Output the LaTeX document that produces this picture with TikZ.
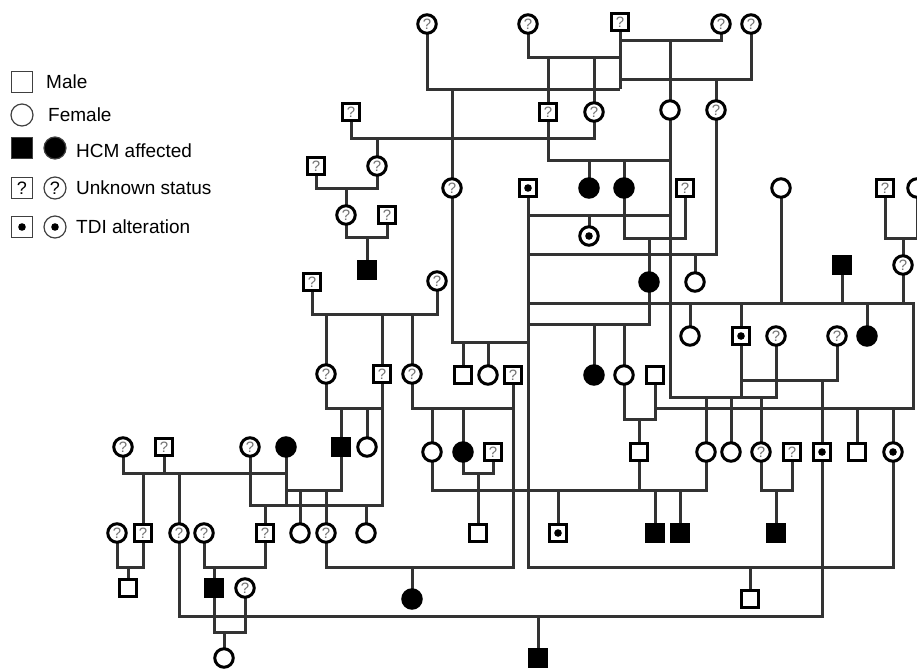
\documentclass[tikz,border=0pt]{standalone}
\usepackage{fontspec}
\setmainfont{Liberation Sans}
\usetikzlibrary{backgrounds}
\tikzset{
 ind/.style={draw=black, line width=3pt, fill=white, inner sep=0pt, outer sep=0pt, font=\fontsize{15}{15}\selectfont, text=black!55},
 ml/.style={ind, rectangle, minimum size=16.5pt},
 fe/.style={ind, circle, minimum size=18.5pt},
 aff/.style={fill=black},
 tdi/.style={path picture={\fill[black] (path picture bounding box.center) circle (3.8pt);}},
 conn/.style={draw=black!80, line width=3pt},
 lg/.style={draw=black!75, line width=1.2pt, fill=white, inner sep=0pt, font=\fontsize{18}{18}\selectfont},
 lgm/.style={lg, rectangle, minimum size=21pt},
 lgf/.style={lg, circle, minimum size=22pt},
 legtext/.style={anchor=west, inner sep=0pt, font=\fontsize{19}{22}\selectfont},
}
\begin{document}
\begin{tikzpicture}[x=1pt, y=-1pt]
\useasboundingbox (0,0) rectangle (917,670);
% legend
\node[lgm] (lm) at (22,82) {};
\node[legtext] (tm) at (46,82) {Male};
\node[lgf] (lf) at (22,115) {};
\node[legtext] (tf) at (48,115) {Female};
\node[lgm, fill=black] (lam) at (22,148) {};
\node[lgf, fill=black] (laf) at (55,148) {};
\node[legtext] (ta) at (76,151) {HCM affected};
\node[lgm] (lum) at (22,188) {?};
\node[lgf] (luf) at (55,188) {?};
\node[legtext] (tu) at (76,188) {Unknown status};
\node[lgm, tdi] (ltm) at (22,227) {};
\node[lgf, tdi] (ltf) at (55,227) {};
\node[legtext] (tt) at (76,227) {TDI alteration};
% generation I
\node[fe] (a1) at (427,24) {?};
\node[fe] (a2) at (528,24) {?};
\node[ml] (a3) at (620,22) {?};
\node[fe] (a4) at (721,24) {?};
\node[fe] (a5) at (751,24) {?};
% generation II
\node[ml] (b1) at (351,112) {?};
\node[ml] (b2) at (548,112) {?};
\node[fe] (b3) at (594,112) {?};
\node[fe] (b4) at (670,110) {};
\node[fe] (b5) at (716,110) {?};
% row ~188
\node[fe] (c0) at (377,166) {?};
\node[ml] (d1) at (316,166) {?};
\node[fe] (c1) at (452,188) {?};
\node[ml, tdi] (c2) at (528,188) {};
\node[fe, aff] (c3) at (589,188) {};
\node[fe, aff] (c4) at (624,188) {};
\node[ml] (c5) at (685,188) {?};
\node[fe] (c6) at (781,188) {};
\node[ml] (c7) at (885,188) {?};
\node[fe] (c8) at (917,188) {};
% rows ~215-282
\node[fe] (e1) at (346,215) {?};
\node[ml] (e2) at (387,215) {?};
\node[fe, tdi] (e3) at (589,236) {};
\node[ml, aff] (f1) at (367,270) {};
\node[ml] (g1) at (312,282) {?};
\node[fe] (g2) at (437,281) {?};
\node[fe, aff] (h1) at (649,282) {};
\node[fe] (h2) at (695,282) {};
\node[ml, aff] (h3) at (842,265) {};
\node[fe] (h4) at (903,265) {?};
% row ~336
\node[fe] (i1) at (690,336) {};
\node[ml, tdi] (i2) at (741,336) {};
\node[fe] (i3) at (776,336) {?};
\node[fe] (i4) at (837,336) {?};
\node[fe, aff] (i5) at (867,336) {};
% row ~375
\node[fe] (j1) at (326,374) {?};
\node[ml] (j2) at (382,374) {?};
\node[fe] (j3) at (412,374) {?};
\node[ml] (j4) at (463,375) {};
\node[fe] (j5) at (488,375) {};
\node[ml] (j6) at (513,375) {?};
\node[fe, aff] (j7) at (594,375) {};
\node[fe] (j8) at (624,375) {};
\node[ml] (j9) at (655,375) {};
% row ~450
\node[fe] (k1) at (123,447) {?};
\node[ml] (k2) at (164,447) {?};
\node[fe] (k3) at (250,447) {?};
\node[fe, aff] (k4) at (286,447) {};
\node[ml, aff] (k5) at (341,447) {};
\node[fe] (k6) at (367,447) {};
\node[fe] (k7) at (432,452) {};
\node[fe, aff] (k8) at (463,452) {};
\node[ml] (k9) at (493,452) {?};
\node[ml] (k10) at (639,452) {};
\node[fe] (k11) at (706,452) {};
\node[fe] (k12) at (731,452) {};
\node[fe] (k13) at (761,452) {?};
\node[ml] (k14) at (792,452) {?};
\node[ml, tdi] (k15) at (822,452) {};
\node[ml] (k16) at (857,452) {};
\node[fe, tdi] (k17) at (893,452) {};
% row ~533
\node[fe] (l1) at (117,533) {?};
\node[ml] (l2) at (143,533) {?};
\node[fe] (l3) at (179,533) {?};
\node[fe] (l4) at (204,533) {?};
\node[ml] (l5) at (265,533) {?};
\node[fe] (l6) at (300,533) {};
\node[fe] (l7) at (326,533) {?};
\node[fe] (l8) at (366,533) {};
\node[ml] (l9) at (478,533) {};
\node[ml, tdi] (l10) at (558,533) {};
\node[ml, aff] (l11) at (655,533) {};
\node[ml, aff] (l12) at (680,533) {};
\node[ml, aff] (l13) at (776,533) {};
% row ~590
\node[ml] (m1) at (128,588) {};
\node[ml, aff] (m2) at (214,588) {};
\node[fe] (m3) at (245,588) {?};
\node[fe, aff] (m4) at (412,599) {};
\node[ml] (m5) at (750,599) {};
% row ~658
\node[fe] (n1) at (224,658) {};
\node[ml, aff] (n2) at (538,658) {};
\coordinate (re) at (913,303);
\coordinate (rf) at (913,408);
\begin{pgfonlayer}{background}
\path[conn]
 (a2) |- (a3 |- 0,57)
 (a1) |- (a3 |- 0,89)
 (a3) -- (a3 |- 0,89)
 (a4) |- (a3 |- 0,40)
 (a5) |- (a3 |- 0,79)
 (b2) -- (b2 |- 0,57)
 (b3) -- (b3 |- 0,57)
 (c1) -- (c1 |- 0,89)
 (b4 |- 0,40) -- (b4 |- 0,397) -| (i3)
 (b5 |- 0,79) -- (b5 |- 0,254) -- (c2 |- 0,254)
 (b1) |- (b3 |- 0,138) -- (b3)
 (c0) -- (c0 |- 0,138)
 (b2) |- (b4 |- 0,160)
 (c3) -- (c3 |- 0,160)
 (c4) -- (c4 |- 0,160)
 (d1) |- (c0 |- 0,188) -- (c0)
 (e1) -- (e1 |- 0,188)
 (e1) |- (e2 |- 0,237) -- (e2)
 (f1) -- (f1 |- 0,237)
 (c1) |- (c2 |- 0,342)
 (j4) -- (j4 |- 0,342)
 (j5) -- (j5 |- 0,342)
 (c2) -- (c2 |- 0,567) -| (k17)
 (c2 |- 0,215) -- (b4 |- 0,215)
 (e3) -- (e3 |- 0,215)
 (c4) |- (c5 |- 0,238) -- (c5)
 (h1 |- 0,238) -- (h1 |- 0,324) -- (c2 |- 0,324)
 (j7) -- (j7 |- 0,324)
 (j8) -- (j8 |- 0,324)
 (h2) -- (h2 |- 0,254)
 (c6) -- (c6 |- 0,303)
 (c2 |- 0,303) -- (re) -- (rf) -- (j9 |- 0,408)
 (h3) -- (h3 |- 0,303)
 (h4) -- (h4 |- 0,303)
 (c7) |- (c8 |- 0,238) -- (c8)
 (h4) -- (h4 |- 0,238)
 (i1) -- (i1 |- 0,303)
 (i2) -- (i2 |- 0,303)
 (i5) -- (i5 |- 0,303)
 (i2) -- (i2 |- 0,397)
 (i2 |- 0,380) -| (i4)
 (k15) -- (k15 |- 0,380)
 (k15) |- (l3 |- 0,616) -- (l3)
 (k11) -- (k11 |- 0,397)
 (k12) -- (k12 |- 0,397)
 (k13) -- (k13 |- 0,397)
 (j9) |- (j8 |- 0,419) -- (j8)
 (k10) -- (k10 |- 0,419)
 (k16) -- (k16 |- 0,408)
 (k17) -- (k17 |- 0,408)
 (g1) |- (g2 |- 0,314) -- (g2)
 (j1) -- (j1 |- 0,314)
 (j2) -- (j2 |- 0,314)
 (j3) -- (j3 |- 0,314)
 (j1) |- (j2 |- 0,408)
 (j2) |- (k3 |- 0,505) -- (k3)
 (k5) -- (k5 |- 0,408)
 (k6) -- (k6 |- 0,408)
 (j3) |- (j6 |- 0,408)
 (j6) |- (l7 |- 0,567) -- (l7)
 (k7) -- (k7 |- 0,408)
 (k8) -- (k8 |- 0,408)
 (k8) |- (k9 |- 0,473) -- (k9)
 (l9) -- (l9 |- 0,473)
 (k7) |- (k11 |- 0,490) -- (k11)
 (k10) -- (k10 |- 0,490)
 (l10) -- (l10 |- 0,490)
 (l11) -- (l11 |- 0,490)
 (l12) -- (l12 |- 0,490)
 (k13) |- (k14 |- 0,490) -- (k14)
 (l13) -- (l13 |- 0,490)
 (k1) |- (k4 |- 0,473) -- (k4)
 (k2) -- (k2 |- 0,473)
 (k4) -- (k4 |- 0,505)
 (l2) -- (l2 |- 0,473)
 (l3) -- (l3 |- 0,473)
 (k5) |- (k4 |- 0,490)
 (l6) -- (l6 |- 0,490)
 (l7) -- (l7 |- 0,490)
 (l5) -- (l5 |- 0,505)
 (l8) -- (l8 |- 0,505)
 (l1) |- (l2 |- 0,567) -- (l2)
 (m1) -- (m1 |- 0,567)
 (l4) |- (l5 |- 0,567) -- (l5)
 (m2) -- (m2 |- 0,567)
 (m2) |- (m3 |- 0,632) -- (m3)
 (n1) -- (n1 |- 0,632)
 (m4) -- (m4 |- 0,567)
 (n2) -- (n2 |- 0,616)
 (m5) -- (m5 |- 0,567);
\end{pgfonlayer}
\end{tikzpicture}
\end{document}
